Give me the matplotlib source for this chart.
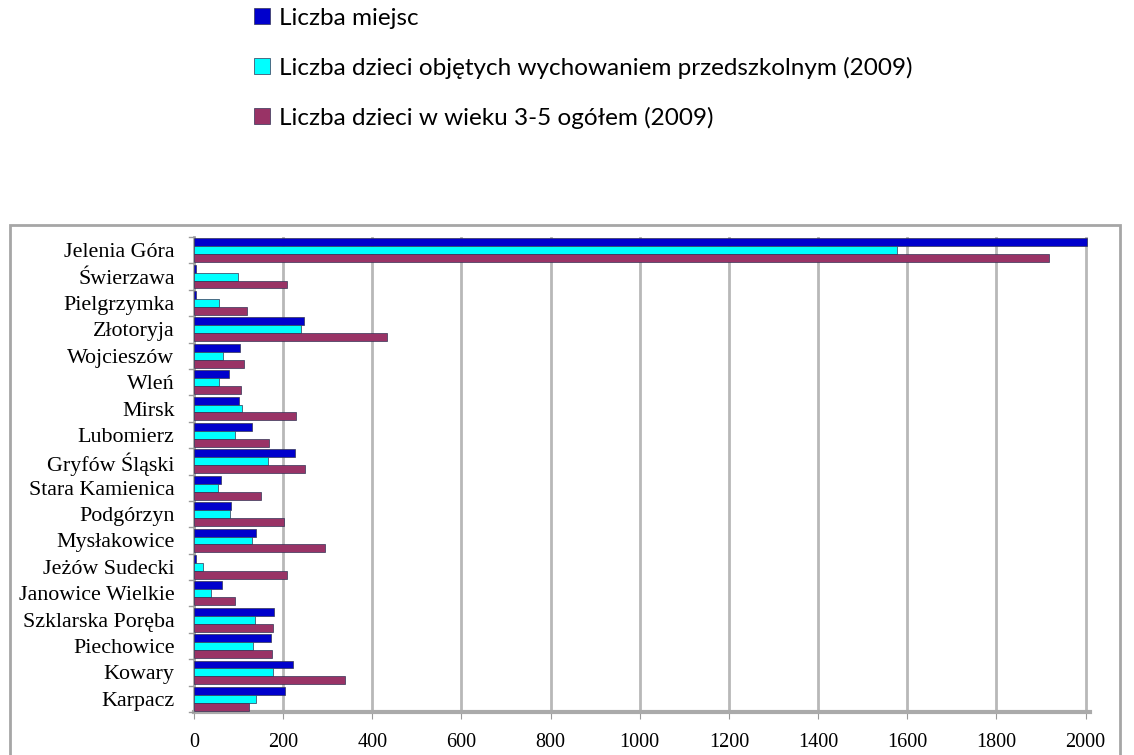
import matplotlib
matplotlib.use("Agg")
import matplotlib.pyplot as plt
import numpy as np
from matplotlib.patches import Rectangle

gminy = ["Jelenia Góra", "Świerzawa", "Pielgrzymka", "Złotoryja", "Wojcieszów", "Wleń",
         "Mirsk", "Lubomierz", "Gryfów Śląski", "Stara Kamienica", "Podgórzyn",
         "Mysłakowice", "Jeżów Sudecki", "Janowice Wielkie", "Szklarska Poręba",
         "Piechowice", "Kowary", "Karpacz"]
miejsca = [2003, 5, 4, 247, 103, 78, 100, 129, 226, 60, 83, 139, 4, 63, 179, 172, 223, 204]
objete = [1576, 99, 55, 239, 66, 56, 108, 93, 166, 54, 80, 130, 20, 38, 137, 132, 178, 139]
ogolem = [1918, 209, 118, 432, 113, 106, 229, 169, 249, 150, 202, 294, 208, 93, 178, 176, 338, 124]
ticks = list(range(0, 2001, 200))

series = [
    ("Liczba miejsc", miejsca, "#0000CC"),
    ("Liczba dzieci objętych wychowaniem przedszkolnym (2009)", objete, "#00FFFF"),
    ("Liczba dzieci w wieku 3-5 ogółem (2009)", ogolem, "#993366"),
]

fig = plt.figure(figsize=(11.34, 7.55), dpi=100)
ax = fig.add_axes([194 / 1134, 1 - 712 / 755, 896 / 1134, 475 / 755])

y = np.arange(len(gminy))
h = 0.3
handles = []
for i, (name, vals, col) in enumerate(series):
    b = ax.barh(y + (i - 1) * h, vals, height=h, color=col, edgecolor="#333355",
                linewidth=0.5, label=name, zorder=3)
    handles.append(b)

ax.set_ylim(len(gminy) - 0.5, -0.5)
ax.set_xlim(0, 2010)
ax.set_xticks(ticks)
ax.set_xticklabels([str(t) for t in ticks], family="Liberation Serif", fontsize=14.5)
ax.set_yticks(y)
ax.set_yticklabels(gminy, family="Liberation Serif", fontsize=15.8)
ax.tick_params(axis="y", length=0, pad=14)
ax.tick_params(axis="x", length=5, color="#999999", pad=10)
ax.grid(axis="x", color="#b8b8b8", linewidth=2, zorder=0)
for s in ["top", "right"]:
    ax.spines[s].set_visible(False)
ax.spines["left"].set_color("#aaaaaa")
ax.spines["left"].set_linewidth(2)
ax.spines["bottom"].set_color("#aaaaaa")
ax.spines["bottom"].set_linewidth(3)
# small separator ticks between categories on the left axis
for k in range(len(gminy) + 1):
    ax.plot([-12, 0], [k - 0.5, k - 0.5], color="#999999", lw=1, clip_on=False, zorder=4)

fig.patches.append(Rectangle((10 / 1134, -0.05), 1110 / 1134, 1.05 - 225 / 755,
                             transform=fig.transFigure, fill=False,
                             edgecolor="#a6a6a6", linewidth=2))

leg = fig.legend(handles=handles, loc="upper left", bbox_to_anchor=(232 / 1134, 1.019),
                 frameon=False, prop={"family": "Lato", "size": 17.5},
                 handlelength=0.65, handleheight=0.65, handletextpad=0.4, labelspacing=1.15)

fig.savefig("out.png", dpi=100)
